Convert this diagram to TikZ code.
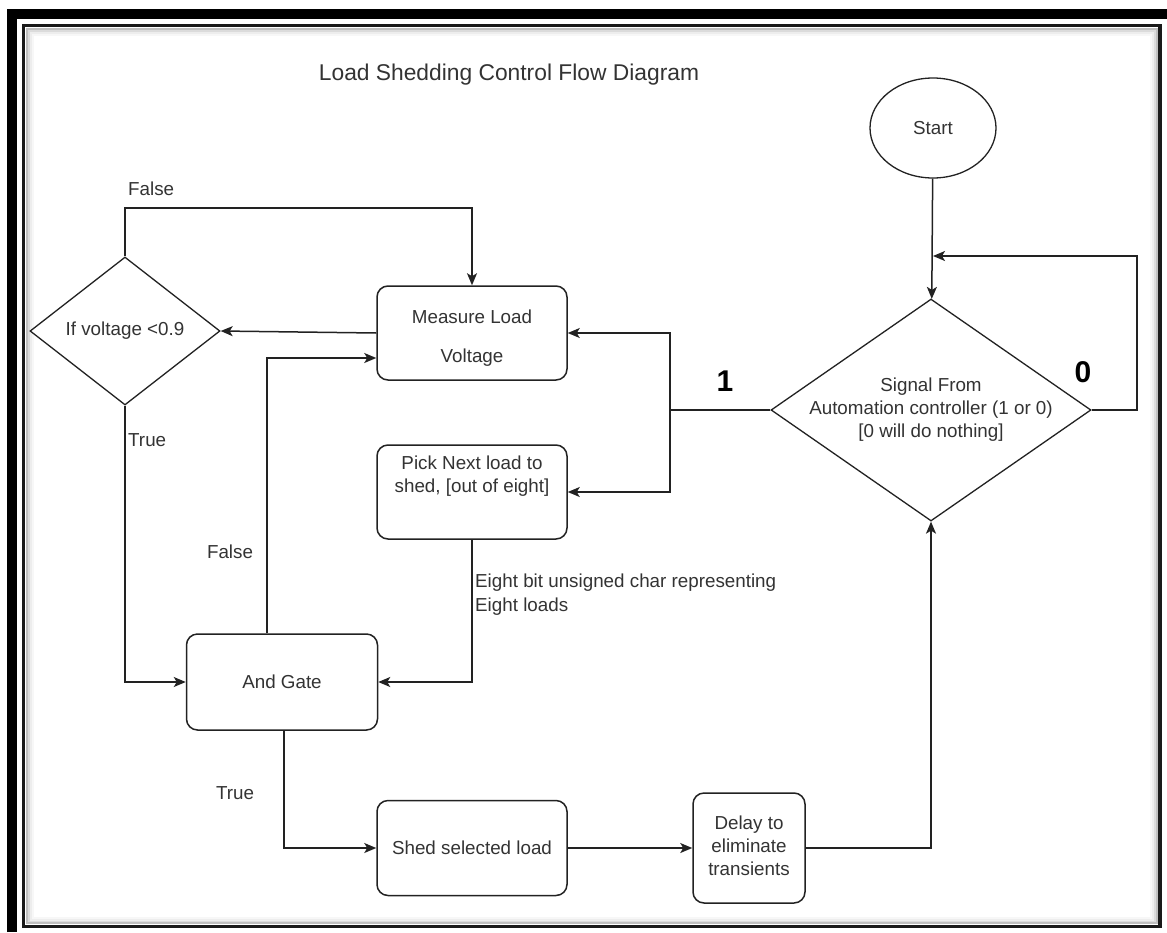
\documentclass[tikz,border=0pt]{standalone}
\usepackage{fontspec}
\setmainfont{Liberation Sans}
\usetikzlibrary{shapes.geometric,arrows.meta,calc}
\definecolor{ink}{HTML}{333333}
\definecolor{lin}{HTML}{222222}
\tikzset{
  box/.style={draw=lin, line width=1.5pt, rounded corners=11pt, fill=white, inner sep=0pt, align=center, text=ink},
  decision/.style={draw=lin, line width=1.3pt, diamond, inner sep=0pt, fill=white},
  txt/.style={text=ink, align=center, inner sep=0pt, font=\fontsize{18.8}{23}\selectfont},
  lbl/.style={text=ink, inner sep=0pt, font=\fontsize{18.8}{24}\selectfont},
  big/.style={text=black, inner sep=0pt, font=\fontsize{30}{30}\selectfont\bfseries},
  arr/.style={draw=lin, line width=1.5pt, -{Stealth[length=12pt,width=10pt,inset=3pt]}},
  ln/.style={draw=lin, line width=1.5pt}
}
\begin{document}
\begin{tikzpicture}[x=1pt,y=-1pt]
\useasboundingbox (0,0) rectangle (1167,932);
\fill[white] (0,0) rectangle (1167,932);
% frame
\draw[line width=10pt, black] (12,932) -- (12,14) -- (1167,14);
\foreach \d/\c in {9/gray!6,7/gray!14,5/gray!28,3.5/gray!50}{
  \draw[line width=2pt, \c] (23.5+\d,25.5+\d) rectangle (1160-\d,926.5-\d);
}
\draw[line width=3.5pt, black!90] (23.5,25.5) rectangle (1160,926.5);

% title
\node[txt, font=\fontsize{22.8}{26}\selectfont] (title) at (509,75) {Load Shedding Control Flow Diagram};

% nodes
\node[draw=lin, line width=1.3pt, ellipse, minimum width=126pt, minimum height=100pt, inner sep=0pt, fill=white] (start) at (933,128) {};
\node[txt] (starttxt) at (start) {Start};

\node[decision, minimum width=320pt, minimum height=222pt] (sig) at (931,410) {};
\node[txt] (sigtxt) at (sig) {Signal From\\Automation controller (1 or 0)\\{}[0 will do nothing]};

\node[decision, minimum width=190pt, minimum height=148pt] (ifv) at (125,331) {};
\node[txt] (ifvtxt) at (ifv) {If voltage {<}0.9};

\node[box, minimum width=190pt, minimum height=94pt] (measure) at (472,333) {};
\node[txt] (measuretxt) at ($(measure)+(0,5)$) {Measure Load\\[16pt]Voltage};

\node[box, minimum width=190pt, minimum height=94pt] (pick) at (472,492) {};
\node[txt] (picktxt) at ($(pick)+(0,-16)$) {Pick Next load to\\shed, [out of eight]};

\node[box, minimum width=191pt, minimum height=96pt] (andg) at (282,682) {};
\node[txt] (andgtxt) at (andg) {And Gate};

\node[box, minimum width=190pt, minimum height=95pt] (shed) at (472,848) {};
\node[txt] (shedtxt) at (shed) {Shed selected load};

\node[box, minimum width=112pt, minimum height=110pt] (delay) at (749,848) {};
\node[txt] (delaytxt) at ($(delay)+(0,-2)$) {Delay to\\eliminate\\transients};

% coordinates
\coordinate (loopR) at (1137,256);
\coordinate (loopin) at (933,256);
\coordinate (split) at (670,410);
\coordinate (ftop) at (472,208);
\coordinate (fb) at (267,358);

% connectors
\draw[arr] (start) -- (sig);
\draw[arr] (sig.east) -| (loopR) -- (loopin);
\draw[ln] (sig.west) -- (split);
\draw[arr] (split) |- (measure.east);
\draw[arr] (split) |- (pick.east);
\draw[arr] (measure.west) -- (ifv.east);
\draw[arr] (ifv.north) |- (ftop) -- (measure.north);
\draw[arr] (ifv.south) |- (andg.west);
\draw[arr] (andg.north -| fb) -- (fb) -- (fb -| measure.west);
\draw[arr] (pick.south) |- (andg.east);
\draw[arr] (andg.south -| 284,0) |- (shed.west);
\draw[arr] (shed.east) -- (delay.west);
\draw[arr] (delay.east) -| (sig.south);

% labels
\node[lbl, anchor=west] (lfalse1) at (128,189) {False};
\node[lbl, anchor=west] (ltrue1) at (128,440) {True};
\node[lbl] (lfalse2) at (230,552) {False};
\node[lbl] (ltrue2) at (235,793) {True};
\node[lbl, anchor=west, align=left] (leight) at (475,595) {Eight bit unsigned char representing\\Eight loads};
\node[big] (lone) at (725,381) {1};
\node[big] (lzero) at (1083,372) {0};
\end{tikzpicture}
\end{document}
